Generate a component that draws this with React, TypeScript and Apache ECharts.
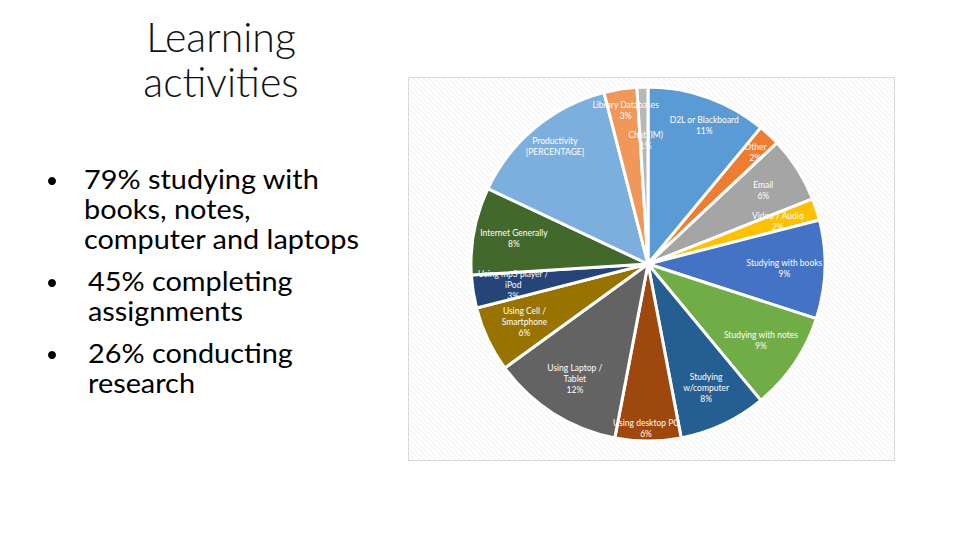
import React, { useEffect, useRef } from "react";
import * as echarts from "echarts";

const categories = [
  "D2L or Blackboard",
  "Other",
  "Email",
  "Video / Audio",
  "Studying with books",
  "Studying with notes",
  "Studying\nw/computer",
  "Using desktop PC",
  "Using Laptop /\nTablet",
  "Using Cell /\nSmartphone",
  "Using mp3 player /\niPod",
  "Internet Generally",
  "Productivity",
  "Library Databases",
  "Chat (IM)",
];
const values = [11, 2, 6, 2, 9, 9, 8, 6, 12, 6, 3, 8, 14, 3, 1];
const valueLabels = ["11%", "2%", "6%", "2%", "9%", "9%", "8%", "6%", "12%", "6%", "3%", "8%", "[PERCENTAGE]", "3%", "1%"];
const colors = [
  "#5B9BD5", "#ED7D31", "#A5A5A5", "#FFC000", "#4472C4", "#70AD47",
  "#255E91", "#9E480E", "#636363", "#997300", "#264478", "#43682B",
  "#7CAFDD", "#F1975A", "#B7B7B7",
];
const titleLines = ["Learning", "activities"];
const bulletParagraphs = [
  ["79% studying with", "books, notes,", "computer and laptops"],
  ["45% completing", "assignments"],
  ["26% conducting", "research"],
];

// small label nudges (style only), keyed by category index
const labelNudge: Record<number, { dx: number; dy: number }> = {
  0: { dx: 10, dy: -10 },
  1: { dx: 14, dy: -12 },
  7: { dx: -2, dy: 28 },
  12: { dx: -6, dy: -12 },
  13: { dx: -1, dy: -19 },
  14: { dx: 2, dy: 13 },
};

function makeHatch(): any {
  const c = document.createElement("canvas");
  c.width = 5;
  c.height = 5;
  const ctx = c.getContext("2d");
  if (ctx) {
    ctx.fillStyle = "#ffffff";
    ctx.fillRect(0, 0, 5, 5);
    ctx.strokeStyle = "#efefef";
    ctx.lineWidth = 1;
    ctx.beginPath();
    ctx.moveTo(-1, -1);
    ctx.lineTo(6, 6);
    ctx.stroke();
  }
  return { image: c, repeat: "repeat" };
}

export default function App() {
  const ref = useRef<HTMLDivElement>(null);
  useEffect(() => {
    document.body.style.margin = "0";
    if (!ref.current) return;
    const chart = echarts.init(ref.current, null, { renderer: "svg" });
    const data = categories.map((name, i) => ({
      name,
      value: values[i],
      itemStyle: { color: colors[i] },
    }));
    const paraTop = [164, 266, 338];
    const paraX = [84, 88, 88];
    const graphic: any[] = [
      {
        type: "rect",
        shape: { x: 408.5, y: 77.5, width: 486, height: 383 },
        style: { fill: makeHatch(), stroke: "#d9d9d9", lineWidth: 1 },
        z: -10,
      },
      {
        type: "text",
        x: 221,
        y: 14,
        style: {
          text: titleLines.join("\n"),
          font: "300 41px Lato",
          lineHeight: 45,
          fill: "#111111",
          align: "center",
          verticalAlign: "top",
        },
      },
    ];
    bulletParagraphs.forEach((lines, i) => {
      graphic.push({
        type: "text",
        x: paraX[i],
        y: paraTop[i],
        scaleX: 1.11,
        style: {
          text: lines.join("\n"),
          font: "26px Lato",
          lineHeight: 30,
          fill: "#000000",
          verticalAlign: "top",
        },
      });
      graphic.push({
        type: "circle",
        shape: { cx: 52, cy: paraTop[i] + 17, r: 4 },
        style: { fill: "#000000" },
      });
    });
    chart.setOption({
      animation: false,
      backgroundColor: "#ffffff",
      graphic,
      series: [
        {
          type: "pie",
          center: [648, 264],
          radius: [0, 177],
          startAngle: 90,
          clockwise: true,
          silent: true,
          data,
          itemStyle: { borderColor: "#ffffff", borderWidth: 3 },
          label: { show: false },
          labelLine: { show: false },
        },
        {
          type: "pie",
          center: [648, 264],
          radius: [90, 177],
          startAngle: 90,
          clockwise: true,
          silent: true,
          data: categories.map((name, i) => ({ name, value: values[i] })),
          itemStyle: { color: "rgba(0,0,0,0)" },
          label: {
            show: true,
            position: "inside",
            color: "#ffffff",
            fontFamily: "Lato",
            fontSize: 8.5,
            lineHeight: 11,
            align: "center",
            overflow: "none",
            formatter: (p: any) => p.name + "\n" + valueLabels[p.dataIndex],
          },
          labelLayout: (p: any) => labelNudge[p.dataIndex] || {},
          labelLine: { show: false },
        },
      ],
    });
    return () => chart.dispose();
  }, []);
  return <div ref={ref} style={{ width: 960, height: 540 }} />;
}
